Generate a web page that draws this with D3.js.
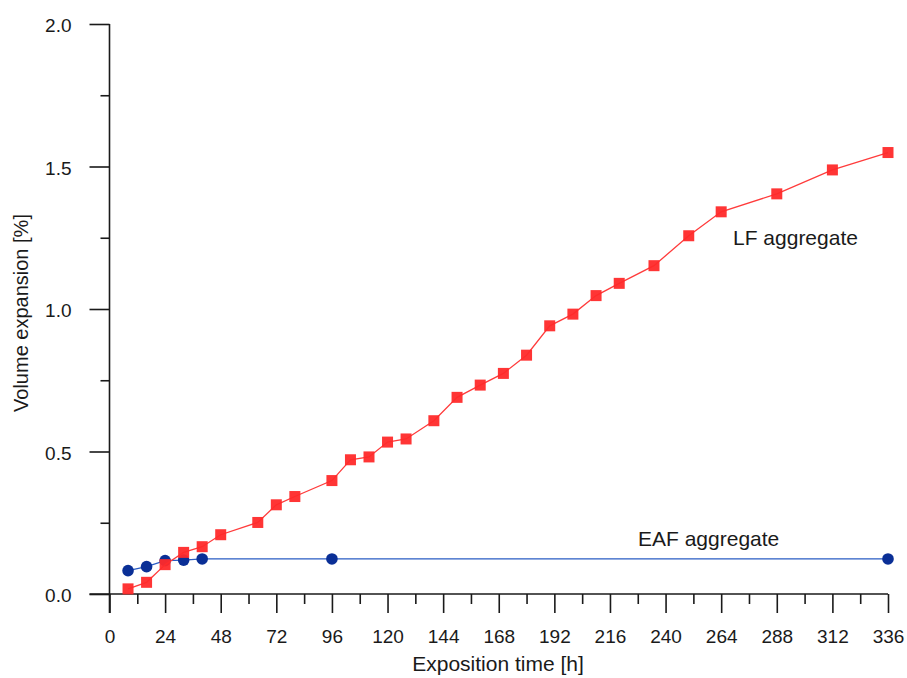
<!DOCTYPE html>
<html>
<head>
<meta charset="utf-8">
<script src="https://cdn.jsdelivr.net/npm/d3@7"></script>
<style>
  body { margin: 0; background: #fff; }
  text { font-family: "Liberation Sans", Arial, sans-serif; fill: #1a1a1a; }
</style>
</head>
<body>
<svg width="907" height="678"></svg>
<script>
// LF aggregate (red squares)
var lfTime = [8, 16, 24, 32, 40, 48, 64, 72, 80, 96, 104, 112, 120, 128, 140, 150, 160, 170, 180, 190, 200, 210, 220, 235, 250, 264, 288, 312, 336];
var lfVal  = [0.018, 0.041, 0.103, 0.146, 0.166, 0.208, 0.251, 0.313, 0.342, 0.398, 0.471, 0.481, 0.533, 0.544, 0.608, 0.690, 0.733, 0.774, 0.838, 0.941, 0.982, 1.047, 1.090, 1.152, 1.257, 1.341, 1.404, 1.488, 1.549];
// EAF aggregate (blue circles)
var eafTime = [8, 16, 24, 32, 40, 96, 336];
var eafVal  = [0.082, 0.096, 0.117, 0.119, 0.123, 0.123, 0.123];

var xTicks = [0, 24, 48, 72, 96, 120, 144, 168, 192, 216, 240, 264, 288, 312, 336];
var yTicks = [0, 0.5, 1.0, 1.5, 2.0];

var svg = d3.select("svg");

var x = d3.scaleLinear().domain([0, 336]).range([109.5, 888]);
var y = d3.scaleLinear().domain([0, 2]).range([594, 24]);

// x axis + minor ticks
var xMinor = d3.range(12, 336, 24);
svg.append("g").attr("transform", "translate(0,594)")
    .call(d3.axisBottom(x).tickValues(xMinor).tickSize(10).tickFormat(""))
    .call(function (g) { g.select(".domain").remove(); });
var gx = svg.append("g").attr("transform", "translate(0,594)")
    .call(d3.axisBottom(x).tickValues(xTicks).tickSize(19).tickSizeOuter(0).tickPadding(17).tickFormat(d3.format("d")));
gx.select(".domain").attr("d", "M89.5,0H" + x(336));
gx.selectAll("text").style("font-size", "19px");

// y axis + minor ticks
var yMinor = [0.25, 0.75, 1.25, 1.75];
svg.append("g").attr("transform", "translate(109.5,0)")
    .call(d3.axisLeft(y).tickValues(yMinor).tickSize(9).tickFormat(""))
    .call(function (g) { g.select(".domain").remove(); });
var gy = svg.append("g").attr("transform", "translate(109.5,0)")
    .call(d3.axisLeft(y).tickValues(yTicks).tickSize(20).tickSizeOuter(0).tickPadding(18).tickFormat(d3.format(".1f")));
gy.select(".domain").attr("d", "M0," + y(2) + "V613");
gy.selectAll("text").style("font-size", "19px").attr("dy", "0.4em");

svg.selectAll(".tick line").attr("stroke", "#1a1a1a").attr("stroke-width", 1.6);
svg.selectAll(".domain").attr("stroke", "#1a1a1a").attr("stroke-width", 1.6);

// axis titles
svg.append("text").attr("x", 498).attr("y", 671).attr("text-anchor", "middle")
    .style("font-size", "21px").text("Exposition time [h]");
svg.append("text").attr("transform", "translate(28,313) rotate(-90)").attr("text-anchor", "middle")
    .style("font-size", "20px").text("Volume expansion [%]");

var line = d3.line().x(function (d) { return x(d[0]); }).y(function (d) { return y(d[1]); });

// EAF
var eaf = d3.zip(eafTime, eafVal);
svg.append("path").datum(eaf).attr("d", line)
    .attr("fill", "none").attr("stroke", "#2a5cc4").attr("stroke-width", 1.3);
svg.selectAll("circle.eaf").data(eaf).enter().append("circle")
    .attr("class", "eaf")
    .attr("cx", function (d) { return x(d[0]); })
    .attr("cy", function (d) { return y(d[1]); })
    .attr("r", 5.8).attr("fill", "#0a2f96");

// LF
var lf = d3.zip(lfTime, lfVal);
svg.append("path").datum(lf).attr("d", line)
    .attr("fill", "none").attr("stroke", "#ff3b3b").attr("stroke-width", 1.3);
svg.selectAll("rect.lf").data(lf).enter().append("rect")
    .attr("class", "lf")
    .attr("x", function (d) { return x(d[0]) - 5.5; })
    .attr("y", function (d) { return y(d[1]) - 5.5; })
    .attr("width", 11).attr("height", 11)
    .attr("fill", "#ff2a2a").attr("fill-opacity", 0.95);

// series labels
svg.append("text").attr("x", 733).attr("y", 245).style("font-size", "21px").text("LF aggregate");
svg.append("text").attr("x", 638).attr("y", 546).style("font-size", "21px").text("EAF aggregate");
</script>
</body>
</html>
